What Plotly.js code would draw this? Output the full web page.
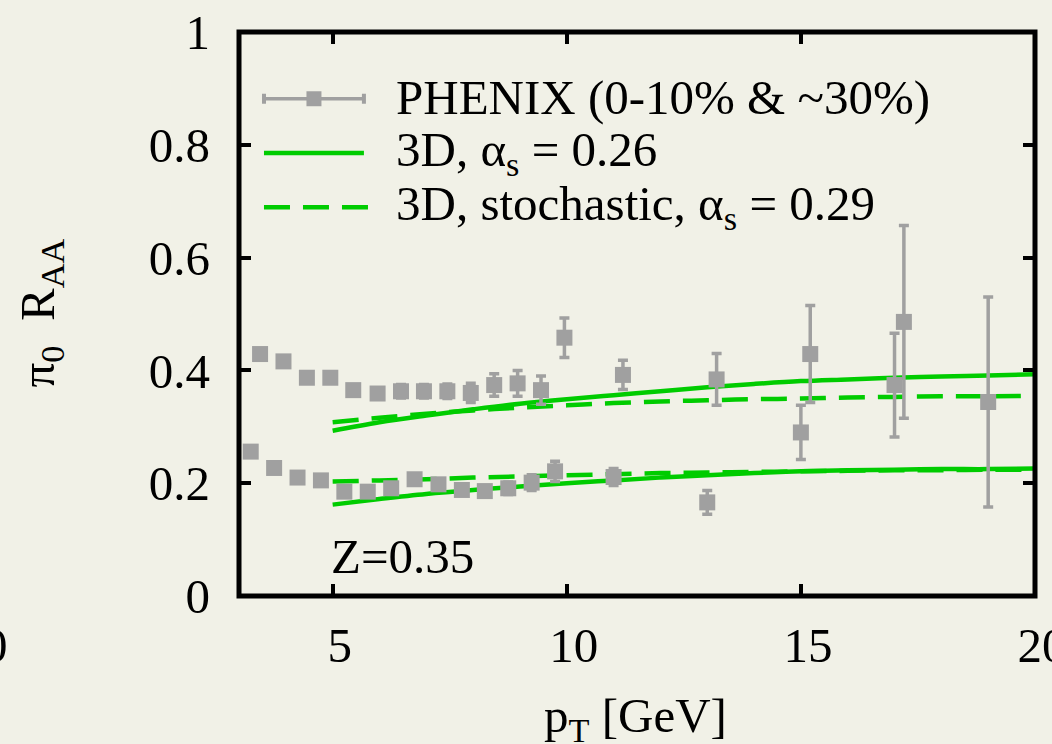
<!DOCTYPE html>
<html>
<head>
<meta charset="utf-8">
<script src="https://cdn.plot.ly/plotly-3.0.1.min.js"></script>
<style>html,body{margin:0;padding:0;background:#f1f1e7;}#chart{width:1052px;height:744px;}</style>
</head>
<body>
<div id="chart"></div>
<script>
// ---- data ----
const phenixHighX = [3.45, 3.95, 4.45, 4.95, 5.44, 5.96, 6.46, 6.95, 7.45, 7.95, 8.45, 8.95, 9.45, 9.95, 11.2, 13.2, 15.2, 17.2];
const phenixHighY = [0.429, 0.416, 0.387, 0.387, 0.365, 0.359, 0.363, 0.363, 0.363, 0.360, 0.374, 0.377, 0.365, 0.458, 0.392, 0.384, 0.429, 0.486];
const phenixHighErr = [0.006, 0.006, 0.006, 0.006, 0.007, 0.008, 0.012, 0.012, 0.013, 0.017, 0.020, 0.023, 0.025, 0.035, 0.026, 0.046, 0.086, 0.171];

const phenixLowX = [3.25, 3.75, 4.25, 4.75, 5.25, 5.75, 6.25, 6.75, 7.26, 7.76, 8.25, 8.75, 9.25, 9.75, 11.0, 13.0, 15.0, 17.0, 19.0];
const phenixLowY = [0.256, 0.227, 0.210, 0.205, 0.185, 0.185, 0.191, 0.207, 0.198, 0.188, 0.186, 0.191, 0.201, 0.221, 0.211, 0.166, 0.290, 0.374, 0.344];
const phenixLowErr = [0.005, 0.005, 0.005, 0.005, 0.005, 0.006, 0.006, 0.007, 0.008, 0.009, 0.010, 0.011, 0.014, 0.018, 0.015, 0.021, 0.048, 0.092, 0.186];

const modelX = [5, 6, 7, 8, 9, 10, 11, 12, 13, 14, 15, 16, 17, 18, 19, 20];
const solidHigh = [0.293, 0.308, 0.320, 0.331, 0.341, 0.349, 0.356, 0.363, 0.370, 0.376, 0.381, 0.384, 0.387, 0.389, 0.391, 0.393];
const dashHigh  = [0.308, 0.316, 0.323, 0.329, 0.334, 0.338, 0.342, 0.345, 0.347, 0.349, 0.350, 0.352, 0.353, 0.354, 0.354, 0.355];
const solidLow  = [0.162, 0.172, 0.181, 0.188, 0.194, 0.200, 0.205, 0.210, 0.214, 0.218, 0.221, 0.223, 0.224, 0.225, 0.225, 0.226];
const dashLow   = [0.203, 0.205, 0.207, 0.210, 0.212, 0.214, 0.216, 0.218, 0.219, 0.220, 0.221, 0.222, 0.223, 0.223, 0.224, 0.224];

const xTicks = [5, 10, 15, 20];
const yTicks = [0, 0.2, 0.4, 0.6, 0.8, 1];
const yTickText = ['0', '0.2', '0.4', '0.6', '0.8', '1'];
const legendLabels = ['PHENIX (0-10% &amp; ~30%)', '3D, α<sub>s</sub> = 0.26', '3D, stochastic, α<sub>s</sub> = 0.29'];

// ---- styling ----
const FONT = 'Liberation Serif, Times New Roman, serif';
const FS = 49;
const GRAY = '#a0a0a0';
const GREEN = '#00cc00';
const DASH = '26px,13px';

// pixel helpers (plot area: x 239..1035.5, y 31.5..596)
const L = 239, R = 1035.5, T = 31.5, B = 596;
const px = v => (v - L) / (R - L);
const py = v => (B - v) / (B - T);

function dataTrace(x, y, e) {
  return {
    x: x, y: y, type: 'scatter', mode: 'markers', showlegend: false, cliponaxis: true,
    marker: {symbol: 'square', size: 16, color: GRAY},
    error_y: {type: 'data', array: e, visible: true, color: GRAY, thickness: 3.5, width: 5}
  };
}
function lineTrace(x, y, dash) {
  return {x: x, y: y, type: 'scatter', mode: 'lines', showlegend: false,
    line: {color: GREEN, width: 4.5, dash: dash, shape: 'spline'}};
}

const traces = [
  lineTrace(modelX, solidHigh, 'solid'),
  lineTrace(modelX, dashHigh, DASH),
  lineTrace(modelX, solidLow, 'solid'),
  lineTrace(modelX, dashLow, DASH),
  dataTrace(phenixHighX, phenixHighY, phenixHighErr),
  dataTrace(phenixLowX, phenixLowY, phenixLowErr)
];

// manual legend (symbols as shapes, text as annotations)
const rowY = [98.3, 152.7, 207];
const sx0 = 264, sx1 = 364, textX = 394;
const shapes = [
  {type: 'rect', xref: 'paper', yref: 'paper', x0: 0, x1: 1, y0: 0, y1: 1, line: {color: '#000', width: 5}, layer: 'above'},
  // PHENIX legend sample
  {type: 'line', xref: 'paper', yref: 'paper', x0: px(sx0), x1: px(sx1), y0: py(rowY[0]), y1: py(rowY[0]), line: {color: GRAY, width: 3.5}},
  {type: 'line', xref: 'paper', yref: 'paper', x0: px(sx0), x1: px(sx0), y0: py(rowY[0] - 5), y1: py(rowY[0] + 5), line: {color: GRAY, width: 4}},
  {type: 'line', xref: 'paper', yref: 'paper', x0: px(sx1), x1: px(sx1), y0: py(rowY[0] - 5), y1: py(rowY[0] + 5), line: {color: GRAY, width: 4}},
  {type: 'rect', xref: 'paper', yref: 'paper', x0: px(306.5), x1: px(321.5), y0: py(rowY[0] - 7.5), y1: py(rowY[0] + 7.5), fillcolor: GRAY, line: {width: 0}},
  // model samples
  {type: 'line', xref: 'paper', yref: 'paper', x0: px(sx0), x1: px(sx1), y0: py(rowY[1]), y1: py(rowY[1]), line: {color: GREEN, width: 4.5}},
  {type: 'line', xref: 'paper', yref: 'paper', x0: px(sx0), x1: px(sx1 + 5), y0: py(rowY[2]), y1: py(rowY[2]), line: {color: GREEN, width: 4.5, dash: DASH}}
];

const annotations = legendLabels.map((t, i) => ({
  xref: 'paper', yref: 'paper', x: px(textX), y: py(rowY[i] - 1), xanchor: 'left', yanchor: 'middle',
  text: t, showarrow: false, font: {family: FONT, size: FS, color: '#000'}
}));
annotations.push(
  {xref: 'paper', yref: 'paper', x: px(329), y: py(556), xanchor: 'left', yanchor: 'middle', text: 'Z=0.35', showarrow: false, font: {family: FONT, size: FS, color: '#000'}},
  {xref: 'paper', yref: 'paper', x: px(40), y: py(313), xanchor: 'center', yanchor: 'middle', textangle: -90, text: 'π<sub>0</sub>  R<sub>AA</sub>', showarrow: false, font: {family: FONT, size: FS, color: '#000'}},
  {xref: 'paper', yref: 'paper', x: px(636), y: py(719), xanchor: 'center', yanchor: 'middle', text: 'p<sub>T</sub> [GeV]', showarrow: false, font: {family: FONT, size: FS, color: '#000'}},
  {xref: 'paper', yref: 'paper', x: px(10), y: py(646), xanchor: 'right', yanchor: 'middle', text: '0', showarrow: false, font: {family: FONT, size: FS, color: '#000'}}
);

const layout = {
  width: 1052, height: 744,
  margin: {l: L, r: 1052 - R, t: T, b: 744 - B, pad: 0},
  paper_bgcolor: '#f1f1e7', plot_bgcolor: '#f1f1e7',
  font: {family: FONT, size: FS, color: '#000'},
  xaxis: {range: [3, 20], tickvals: xTicks, ticktext: xTicks.map(String), ticks: 'inside', ticklen: 12, tickwidth: 4, tickcolor: '#000',
    mirror: 'ticks', showgrid: false, zeroline: false, showline: false, ticklabelstandoff: 16, ticklabeloverflow: 'allow', ticklabelshift: 7,
    tickfont: {family: FONT, size: FS, color: '#000'}},
  yaxis: {range: [0, 1], tickvals: yTicks, ticktext: yTickText, ticks: 'inside', ticklen: 12, tickwidth: 4, tickcolor: '#000',
    mirror: 'ticks', showgrid: false, zeroline: false, showline: false, ticklabelstandoff: 28, ticklabeloverflow: 'allow',
    tickfont: {family: FONT, size: FS, color: '#000'}},
  shapes: shapes,
  annotations: annotations,
  showlegend: false
};

Plotly.newPlot('chart', traces, layout, {displayModeBar: false, staticPlot: true});
</script>
</body>
</html>
